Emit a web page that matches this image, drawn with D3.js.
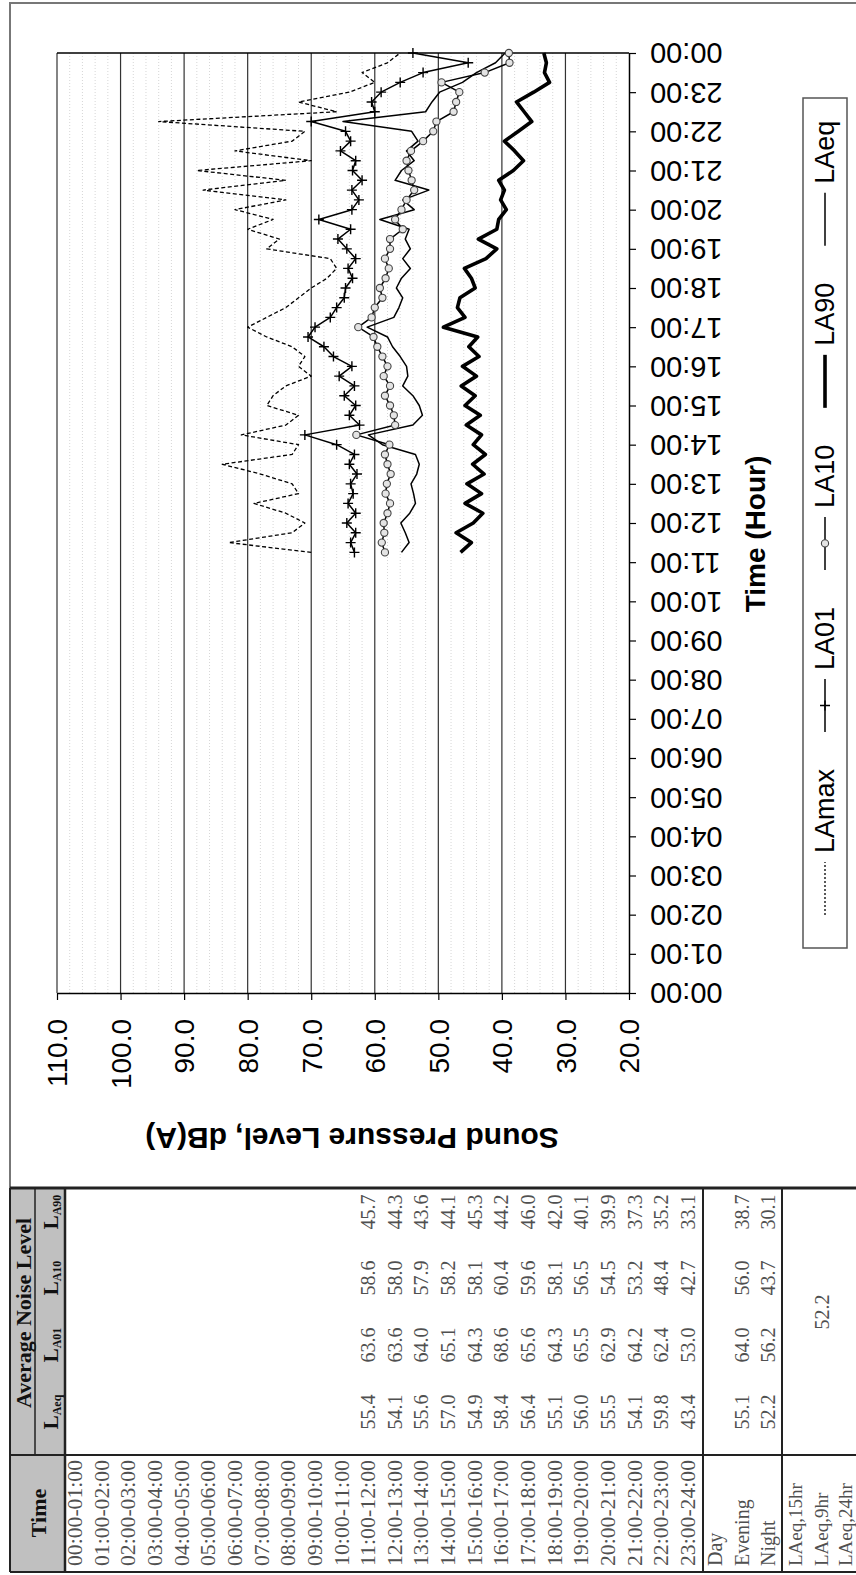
<!DOCTYPE html>
<html>
<head>
<meta charset="utf-8">
<script src="https://cdn.jsdelivr.net/npm/d3@7"></script>
<style>
body { margin: 0; background: #fff; }
svg { display: block; }
</style>
</head>
<body>
<svg width="856" height="1575"></svg>
<script>
// ---- data ----
// 15 minute readings, 11:15 to 24:00
var times = ["11:15","11:30","11:45","12:00","12:15","12:30","12:45","13:00",
  "13:15","13:30","13:45","14:00","14:15","14:30","14:45","15:00",
  "15:15","15:30","15:45","16:00","16:15","16:30","16:45","17:00",
  "17:15","17:30","17:45","18:00","18:15","18:30","18:45","19:00",
  "19:15","19:30","19:45","20:00","20:15","20:30","20:45","21:00",
  "21:15","21:30","21:45","22:00","22:15","22:30","22:45","23:00",
  "23:15","23:30","23:45","24:00"];

var LAmax = [70, 83, 73, 71, 74, 79, 72, 73, 78, 84, 73, 72, 81, 74, 72, 77,
  76, 74, 70, 72, 71, 73, 77, 80, 77, 74, 72, 70, 67.5, 66, 67, 77,
  75, 80, 76, 82, 74, 87, 74, 88, 70, 82, 73, 71, 94, 66, 72, 64,
  60, 62, 58, 56];

var LA01 = [63.2, 63.8, 63.0, 64.4, 63.0, 64.2, 63.4, 63.8, 62.8, 64.0, 63.2, 66.0,
  71.0, 62.4, 64.0, 63.0, 64.8, 63.2, 65.6, 63.6, 66.5, 68.0, 70.5, 69.4,
  67.0, 66.0, 64.8, 64.6, 63.5, 64.2, 63.0, 64.4, 65.8, 63.8, 68.8, 63.6,
  62.5, 63.6, 62.0, 63.5, 63.0, 65.4, 63.8, 64.6, 70.0, 60.0, 60.5, 59.0,
  56.0, 52.4, 45.3, 54.0];

var LA10 = [58.4, 58.9, 58.5, 58.6, 58.0, 57.6, 58.3, 58.1, 57.5, 58.0, 58.4, 57.7,
  62.9, 56.8, 57.0, 57.6, 58.4, 57.6, 58.6, 58.0, 58.8, 59.6, 60.2, 62.6,
  60.5, 60.0, 58.8, 59.2, 58.3, 57.8, 58.4, 57.6, 57.6, 55.6, 56.8, 55.8,
  55.0, 53.8, 54.2, 54.7, 55.0, 54.3, 52.4, 50.8, 50.3, 47.6, 47.2, 46.7,
  49.5, 42.7, 38.8, 38.9];

var LA90 = [46.5, 44.8, 47.2, 44.5, 43.0, 45.8, 43.2, 45.5, 42.8, 44.6, 42.6, 44.5,
  43.2, 45.6, 43.4, 45.8, 44.2, 46.4, 44.0, 46.2, 43.6, 45.2, 43.8, 49.2,
  45.8, 47.0, 46.6, 44.2, 44.8, 45.9, 42.5, 40.8, 43.7, 40.8, 40.5, 39.3,
  40.2, 39.6, 40.5, 38.2, 36.6, 38.0, 39.6, 37.4, 35.3, 36.5, 37.7, 35.0,
  32.5, 33.3, 33.0, 33.4];

var LAeq = [55.8, 54.6, 55.2, 55.9, 54.5, 53.6, 53.9, 54.3, 53.4, 53.0, 53.6, 58.8,
  61.0, 54.0, 52.5, 53.0, 54.0, 55.6, 54.8, 55.0, 56.0, 57.2, 58.0, 61.2,
  57.0, 56.2, 55.6, 56.6, 55.8, 54.4, 55.6, 54.4, 55.2, 54.6, 59.2, 53.8,
  55.6, 51.5, 56.8, 55.8, 53.8, 55.0, 53.2, 54.2, 65.0, 52.0, 51.0, 49.8,
  46.2, 44.0, 41.0, 39.5];

// axis ticks
var levelTicks = [20, 30, 40, 50, 60, 70, 80, 90, 100, 110];
var hourTicks = [0, 1, 2, 3, 4, 5, 6, 7, 8, 9, 10, 11, 12, 13, 14, 15, 16, 17, 18, 19, 20, 21, 22, 23, 24];

// hourly table
var periods = ["00:00-01:00","01:00-02:00","02:00-03:00","03:00-04:00","04:00-05:00",
  "05:00-06:00","06:00-07:00","07:00-08:00","08:00-09:00","09:00-10:00","10:00-11:00",
  "11:00-12:00","12:00-13:00","13:00-14:00","14:00-15:00","15:00-16:00","16:00-17:00",
  "17:00-18:00","18:00-19:00","19:00-20:00","20:00-21:00","21:00-22:00","22:00-23:00",
  "23:00-24:00"];
var firstRow = 11; // rows before 11:00 are empty
var hrLAeq = [55.4, 54.1, 55.6, 57.0, 54.9, 58.4, 56.4, 55.1, 56.0, 55.5, 54.1, 59.8, 43.4];
var hrLA01 = [63.6, 63.6, 64.0, 65.1, 64.3, 68.6, 65.6, 64.3, 65.5, 62.9, 64.2, 62.4, 53.0];
var hrLA10 = [58.6, 58.0, 57.9, 58.2, 58.1, 60.4, 59.6, 58.1, 56.5, 54.5, 53.2, 48.4, 42.7];
var hrLA90 = [45.7, 44.3, 43.6, 44.1, 45.3, 44.2, 46.0, 42.0, 40.1, 39.9, 37.3, 35.2, 33.1];
var summaryNames = ["Day", "Evening", "Night"];
var summaryLAeq = [null, 55.1, 52.2];
var summaryLA01 = [null, 64.0, 56.2];
var summaryLA10 = [null, 56.0, 43.7];
var summaryLA90 = [null, 38.7, 30.1];
var overallNames = ["LAeq,15hr", "LAeq,9hr", "LAeq,24hr"];
var overallValue = 52.2;

// ---- layout (the whole page is turned a quarter turn) ----
var svg = d3.select("svg");
var plot = {left: 57, right: 629, top: 53, bottom: 993};
var sans = "'Liberation Sans', Arial, sans-serif";
var serif = "'Liberation Serif', 'Times New Roman', serif";

// level runs right to left, time runs bottom to top
var x = d3.scaleLinear().domain([20, 110]).range([plot.right, plot.left]);
var y = d3.scaleLinear().domain([0, 24]).range([plot.bottom, plot.top]);

function hrs(s) { var p = s.split(":"); return +p[0] + (+p[1]) / 60; }

// frame round the chart
svg.append("rect")
  .attr("x", 10).attr("y", 3).attr("width", 880).attr("height", 1185)
  .attr("fill", "none").attr("stroke", "#777").attr("stroke-width", 2);

// minor grid every 2 dB
var g = svg.append("g");
g.selectAll(".minor")
  .data(d3.range(22, 110, 2).filter(function(v) { return v % 10 !== 0; }))
  .enter().append("line")
    .attr("class", "minor")
    .attr("x1", function(d) { return x(d); }).attr("x2", function(d) { return x(d); })
    .attr("y1", plot.top).attr("y2", plot.bottom)
    .attr("stroke", "#d6d6d6").attr("stroke-width", 1).attr("stroke-dasharray", "1,2");

// major grid
g.selectAll(".major")
  .data(levelTicks.slice(1))
  .enter().append("line")
    .attr("class", "major")
    .attr("x1", function(d) { return x(d); }).attr("x2", function(d) { return x(d); })
    .attr("y1", plot.top).attr("y2", plot.bottom)
    .attr("stroke", "#333").attr("stroke-width", 1.2);

// top edge of the plot (24:00)
g.append("line")
  .attr("x1", plot.left).attr("x2", plot.right)
  .attr("y1", plot.top).attr("y2", plot.top)
  .attr("stroke", "#000").attr("stroke-width", 1.5);

// level axis along the bottom
var xAxis = svg.append("g")
  .attr("transform", "translate(0," + plot.bottom + ")")
  .call(d3.axisBottom(x).tickValues(levelTicks).tickSize(7).tickSizeOuter(0).tickFormat(d3.format(".1f")));
xAxis.select(".domain").attr("stroke-width", 1.5);
xAxis.selectAll("line").attr("stroke-width", 1.2);
xAxis.selectAll("text")
  .attr("x", 0).attr("y", 0).attr("dy", "0.35em")
  .attr("text-anchor", "end")
  .attr("transform", "translate(0,26) rotate(-90)")
  .attr("font-family", sans).attr("font-size", 28).attr("fill", "#000");

// time axis along the right
var yAxis = svg.append("g")
  .attr("transform", "translate(" + plot.right + ",0)")
  .call(d3.axisRight(y).tickValues(hourTicks).tickSize(7).tickSizeOuter(0)
    .tickFormat(function(h) { return d3.format("02d")(h % 24) + ":00"; }));
yAxis.select(".domain").attr("stroke-width", 1.5);
yAxis.selectAll("line").attr("stroke-width", 1.2);
yAxis.selectAll("text")
  .attr("x", 0).attr("y", 0).attr("dy", "0.35em")
  .attr("text-anchor", "end")
  .attr("transform", "translate(21,0) rotate(180)")
  .attr("font-family", sans).attr("font-size", 29).attr("fill", "#000");

// axis titles
svg.append("text")
  .attr("transform", "translate(352,1138) rotate(180)")
  .attr("text-anchor", "middle").attr("dy", "0.35em")
  .attr("font-family", sans).attr("font-weight", "bold").attr("font-size", 30)
  .text("Sound Pressure Level, dB(A)");

svg.append("text")
  .attr("transform", "translate(755,534) rotate(-90)")
  .attr("text-anchor", "middle").attr("dy", "0.35em")
  .attr("font-family", sans).attr("font-weight", "bold").attr("font-size", 28)
  .text("Time (Hour)");

// ---- series ----
var series = [
  {name: "LAmax", values: LAmax, width: 1.3, dash: "4,2.5", marker: null},
  {name: "LA01", values: LA01, width: 1.5, dash: null, marker: "plus"},
  {name: "LA10", values: LA10, width: 1.5, dash: null, marker: "circle"},
  {name: "LA90", values: LA90, width: 3.6, dash: null, marker: null},
  {name: "LAeq", values: LAeq, width: 1.5, dash: null, marker: null}
];

var line = d3.line()
  .x(function(d) { return x(d.v); })
  .y(function(d) { return y(d.t); });

function pointsOf(s) {
  return s.values.map(function(v, i) { return {t: hrs(times[i]), v: v}; });
}

var marks = svg.append("g");
series.forEach(function(s) {
  marks.append("path")
    .datum(pointsOf(s))
    .attr("d", line)
    .attr("fill", "none").attr("stroke", "#000")
    .attr("stroke-width", s.width)
    .attr("stroke-linejoin", "round")
    .attr("stroke-dasharray", s.dash);
});

function drawMarker(sel, kind, cx, cy) {
  if (kind === "plus") {
    sel.append("path")
      .attr("d", "M" + (cx - 5) + "," + cy + "H" + (cx + 5) + "M" + cx + "," + (cy - 5) + "V" + (cy + 5))
      .attr("stroke", "#000").attr("stroke-width", 1.4).attr("fill", "none");
  } else if (kind === "circle") {
    sel.append("circle")
      .attr("cx", cx).attr("cy", cy).attr("r", 3.6)
      .attr("fill", "#e4e4e4").attr("stroke", "#444").attr("stroke-width", 1.1);
  }
}

series.filter(function(s) { return s.marker; }).forEach(function(s) {
  pointsOf(s).forEach(function(d) { drawMarker(marks, s.marker, x(d.v), y(d.t)); });
});

// ---- legend ----
var legend = svg.append("g").attr("class", "legend");
legend.append("rect")
  .attr("x", 803).attr("y", 98).attr("width", 44).attr("height", 850)
  .attr("fill", "#fff").attr("stroke", "#555").attr("stroke-width", 1.5);

var ly = 915, lx = 825;
series.forEach(function(s) {
  legend.append("line")
    .attr("x1", lx).attr("x2", lx).attr("y1", ly).attr("y2", ly - 53)
    .attr("stroke", "#000").attr("stroke-width", s.width)
    .attr("stroke-dasharray", s.dash ? "2,2" : null);
  drawMarker(legend, s.marker, lx, ly - 26.5);
  var t = legend.append("text")
    .attr("transform", "translate(" + lx + "," + (ly - 62) + ") rotate(-90)")
    .attr("dy", "0.35em")
    .attr("font-family", sans).attr("font-size", 27)
    .text(s.name);
  ly = ly - 62 - t.node().getComputedTextLength() - 37;
});

// ---- table under the chart ----
var tab = {top: 1188, bottom: 1572, head: 65, split: 1455};
var colX = d3.scaleLinear().domain([0, 23]).range([75, 688]);
var rowY = {LAeq: 1412, LA01: 1345, LA10: 1278, LA90: 1212};
var table = svg.append("g");

table.append("rect")
  .attr("x", 10).attr("y", tab.top).attr("width", tab.head - 10).attr("height", tab.bottom - tab.top)
  .attr("fill", "#c0c0c0");

function vline(xp, y1, y2, w) {
  table.append("line").attr("x1", xp).attr("x2", xp).attr("y1", y1).attr("y2", y2)
    .attr("stroke", "#222").attr("stroke-width", w);
}
function hline(yp, x1, x2, w) {
  table.append("line").attr("x1", x1).attr("x2", x2).attr("y1", yp).attr("y2", yp)
    .attr("stroke", "#222").attr("stroke-width", w);
}
hline(tab.top, 10, 856, 3);
hline(tab.bottom, 10, 856, 2);
hline(tab.split, 10, 856, 2);
vline(10, tab.top, tab.bottom, 2);
vline(35, tab.top, tab.split, 1.5);
vline(tab.head, tab.top, tab.bottom, 2.5);
vline(703, tab.top, tab.bottom, 2);
vline(782, tab.top, tab.bottom, 2);

function vtext(xp, yp, str, opts) {
  opts = opts || {};
  return table.append("text")
    .attr("transform", "translate(" + xp + "," + yp + ") rotate(-90)")
    .attr("dy", "0.35em")
    .attr("text-anchor", opts.anchor || "middle")
    .attr("font-family", serif)
    .attr("font-size", opts.size || 20)
    .attr("font-weight", opts.bold ? "bold" : "normal")
    .attr("fill", opts.fill || "#505050")
    .text(str);
}

// headings
vtext(38, 1513, "Time", {bold: true, size: 22, fill: "#111"});
vtext(23, 1313, "Average Noise Level", {bold: true, size: 22, fill: "#111"});
[["Aeq", rowY.LAeq], ["A01", rowY.LA01], ["A10", rowY.LA10], ["A90", rowY.LA90]].forEach(function(h) {
  var t = vtext(51, h[1], "L", {bold: true, size: 21, fill: "#111"});
  t.append("tspan").attr("font-size", 12).attr("dy", "0.25em").text(h[0]);
});

// hourly rows
periods.forEach(function(p, i) {
  vtext(colX(i), 1513, p, {size: 20}).attr("textLength", 106).attr("lengthAdjust", "spacingAndGlyphs");
});
var fmt = d3.format(".1f");
[[hrLAeq, rowY.LAeq], [hrLA01, rowY.LA01], [hrLA10, rowY.LA10], [hrLA90, rowY.LA90]].forEach(function(c) {
  c[0].forEach(function(v, j) { vtext(colX(firstRow + j), c[1], fmt(v), {size: 20}); });
});

// day / evening / night
var sumX = [715, 742, 768];
summaryNames.forEach(function(n, i) {
  vtext(sumX[i], 1566, n, {anchor: "start", size: 20});
});
[[summaryLAeq, rowY.LAeq], [summaryLA01, rowY.LA01], [summaryLA10, rowY.LA10], [summaryLA90, rowY.LA90]].forEach(function(c) {
  c[0].forEach(function(v, i) { if (v != null) vtext(sumX[i], c[1], fmt(v), {size: 20}); });
});

// overall
var allX = [795, 821, 845];
overallNames.forEach(function(n, i) {
  vtext(allX[i], 1566, n, {anchor: "start", size: 19});
});
vtext(822, 1312, fmt(overallValue), {size: 20});
</script>
</body>
</html>
